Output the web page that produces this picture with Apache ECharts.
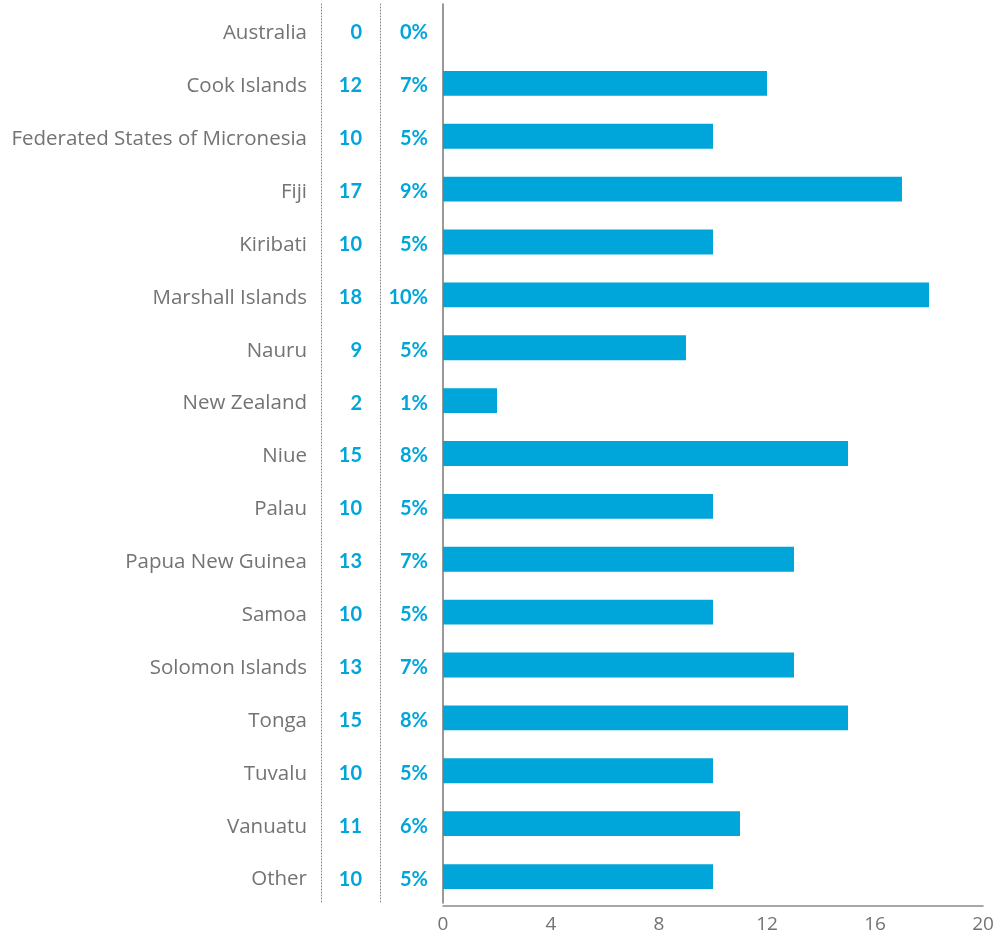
<!DOCTYPE html>
<html><head><meta charset="utf-8">
<script src="https://cdn.jsdelivr.net/npm/echarts@6/dist/echarts.min.js"></script>
<style>html,body{margin:0;padding:0;background:#fff}#c{width:997px;height:938px}</style>
</head><body><div id="c"></div>
<script>
var categories = ["Australia","Cook Islands","Federated States of Micronesia","Fiji","Kiribati","Marshall Islands","Nauru","New Zealand","Niue","Palau","Papua New Guinea","Samoa","Solomon Islands","Tonga","Tuvalu","Vanuatu","Other"];
var values = [0,12,10,17,10,18,9,2,15,10,13,10,13,15,10,11,10];
var percents = ["0%","7%","5%","9%","5%","10%","5%","1%","8%","5%","7%","5%","7%","8%","5%","6%","5%"];
var xTicks = [0,4,8,12,16,20];

var gray = '#737373', blue = '#00a6da';
var chart = echarts.init(document.getElementById('c'));
function catAxis(extra){
  return Object.assign({type:'category', data:categories, inverse:true, position:'left',
    axisTick:{show:false}, axisLine:{show:false}, axisLabel:{show:false}, splitLine:{show:false}}, extra);
}
var catRich = {a:{color:gray, fontFamily:'Open Sans', fontSize:20.5, padding:[6,0,0,0]}};
var numRich = {a:{color:blue, fontFamily:'Lato', fontWeight:'bold', fontSize:20, padding:[5,0,0,0]}};
chart.setOption({
  animation:false,
  grid:{left:443, right:14, top:4, bottom:35, containLabel:false},
  xAxis:{type:'value', min:xTicks[0], max:xTicks[xTicks.length-1], interval:4, offset:3,
    axisLine:{show:true, lineStyle:{color:'#8a8a8a', width:1.5}},
    axisTick:{show:false}, splitLine:{show:false},
    axisLabel:{color:gray, fontFamily:'Open Sans', fontSize:19, margin:9}},
  yAxis:[
    catAxis({axisLine:{show:true, lineStyle:{color:'#777', width:1.5}},
      axisLabel:{show:true, margin:136, rich:catRich, formatter:function(v){return '{a|'+v+'}';}}}),
    catAxis({axisLabel:{show:true, margin:81, rich:numRich,
      formatter:function(v,i){return '{a|'+values[i]+'}';}}}),
    catAxis({axisLabel:{show:true, margin:15, rich:numRich,
      formatter:function(v,i){return '{a|'+percents[i]+'}';}}}),
    catAxis({offset:122, axisLine:{show:true, lineStyle:{color:'#888', width:1, type:[1,2]}}}),
    catAxis({offset:63, axisLine:{show:true, lineStyle:{color:'#888', width:1, type:[1,2]}}})
  ],
  series:[{type:'bar', data:values, yAxisIndex:0, barWidth:'47%', itemStyle:{color:blue}, silent:true}]
});
</script></body></html>
